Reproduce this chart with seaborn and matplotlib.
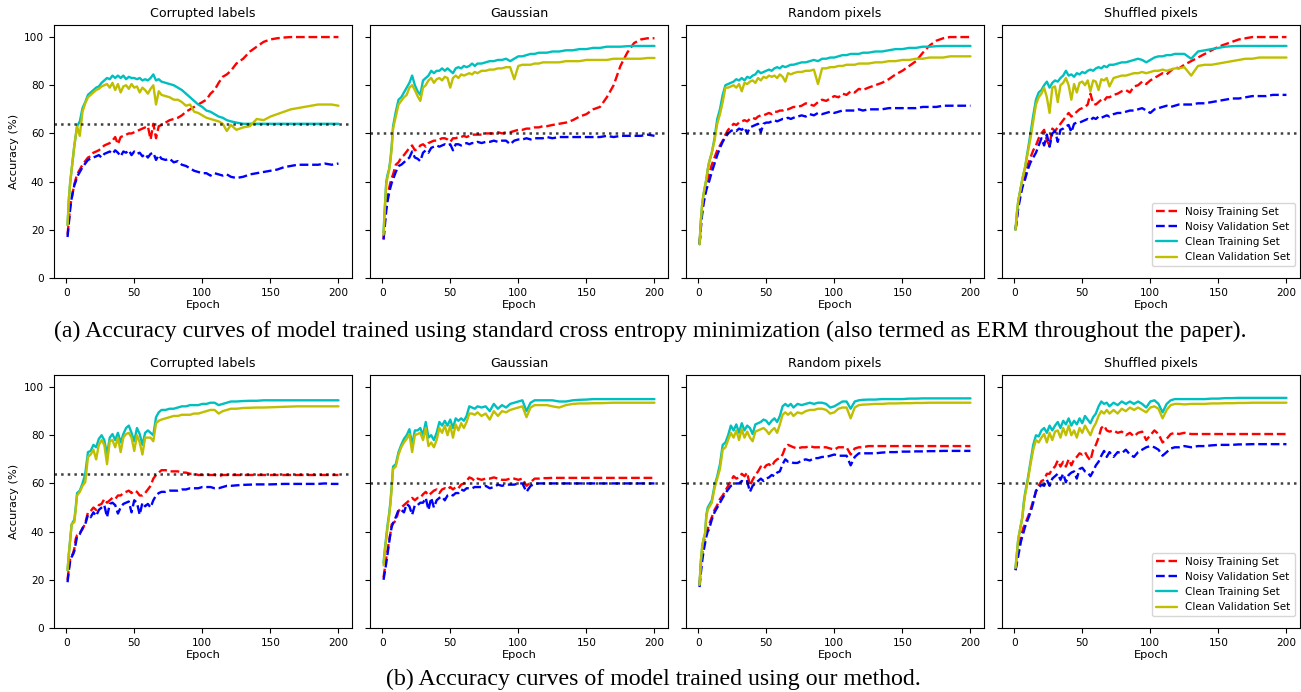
import matplotlib
matplotlib.use("Agg")
import matplotlib.pyplot as plt
import seaborn as sns

# ---------------- data ----------------
epochs = [1, 2, 3, 4, 5, 6, 7, 8,
          10, 12, 14, 16, 18, 20, 22, 24, 26, 28, 30, 32, 34, 36, 38,
          40, 42, 44, 46, 48, 50, 52, 54, 56, 58, 60, 62, 64, 66, 68, 70,
          73, 76, 79, 82, 85, 88, 91, 94, 97, 100, 103, 106, 109, 112, 115, 118, 121,
          125, 130, 135, 140, 145, 150, 155, 160, 165, 170, 175, 180, 185, 190, 195, 200]

titles = ["Corrupted labels", "Gaussian", "Random pixels", "Shuffled pixels"]
ref_levels = [64, 60, 60, 60]
series_labels = ["Noisy Training Set", "Noisy Validation Set",
                 "Clean Training Set", "Clean Validation Set"]
captions = ["(a) Accuracy curves of model trained using standard cross entropy minimization "
            "(also termed as ERM throughout the paper).",
            "(b) Accuracy curves of model trained using our method."]
yticks = [0, 20, 40, 60, 80, 100]
xticks = [0, 50, 100, 150, 200]

# ---- (a) ERM : Corrupted labels ----
erm_cl_nt = [18, 24, 30, 33, 36, 39, 41, 43,
             45, 47, 48.5, 50, 50.5, 52, 52.5, 53, 54, 55, 55.5, 56, 57, 58.5, 55.5,
             58.5, 59, 59.5, 60, 60, 60.5, 61, 61.5, 62, 62.5, 63, 57.5, 64, 58, 63, 63.5,
             64.5, 65.5, 66, 66.5, 67.5, 69, 70, 71, 72, 73, 74, 76.5, 78, 81, 83.5, 84.5, 86,
             89, 91, 94, 96, 98, 99, 99.5, 99.8, 100, 100, 100, 100, 100, 100, 100, 100]
erm_cl_nv = [17, 23, 29, 33, 36, 38.5, 40, 42,
             44, 46, 47.5, 49, 49.5, 50, 50.5, 51, 50, 51.5, 52, 52.5, 51.5, 53, 52,
             50.5, 52.5, 52, 53, 51, 52.5, 51.5, 52, 50.5, 51.5, 50, 51.5, 52, 49, 51, 49.5,
             49, 49.5, 48, 48.5, 47, 46.5, 45.5, 44.5, 44, 43.5, 43.5, 42.5, 43.5, 43, 42.5, 43, 42,
             41.5, 42, 43, 43.5, 44, 44.5, 45, 46, 46.5, 47, 47, 47, 47, 47.5, 47, 47.5]
erm_cl_ct = [22, 33, 40, 45, 50, 55, 59, 63,
             65, 70.5, 73, 76, 77, 78, 79, 79.5, 81, 82, 83, 82.5, 84, 83, 84,
             83, 84, 82.5, 83.5, 83, 83, 82.5, 83, 82, 82.5, 82, 83, 84.5, 82, 82.5, 81.5,
             81, 80.5, 80, 79, 78, 76.5, 75, 73.5, 72, 71, 69.5, 69, 68, 67, 66.5, 65.5, 65,
             64.5, 64, 64, 64, 64, 64, 64, 64, 64, 64, 64, 64, 64, 64, 64, 64]
erm_cl_cv = [22, 33, 40, 45, 50, 55, 59, 63,
             59, 69, 72.5, 75, 76, 77, 78, 78.5, 79.5, 80, 80.5, 79, 81, 78, 80.5,
             77, 79.5, 80, 78.5, 80.5, 79, 79.5, 77, 79, 78, 76.5, 78.5, 80, 72, 77.5, 76,
             75.5, 75, 74, 74, 73, 71.5, 72, 69, 68.5, 67.5, 66.5, 66, 65.5, 65, 64, 61, 63.5,
             61.5, 62.5, 63, 66, 65.5, 67, 68, 69, 70, 70.5, 71, 71.5, 72, 72, 72, 71.5]

# ---- (a) ERM : Gaussian ----
erm_ga_nt = [16, 24, 30, 34, 37, 39.5, 41.5, 43,
             47, 48, 50, 51, 52.5, 54, 55, 53, 53.5, 55, 55.5, 54.5, 56, 56.5, 57,
             57, 57.5, 58, 58, 57.5, 56.5, 58, 58, 58.5, 58.5, 59, 58.5, 59, 59.5, 59.5, 59.5,
             59.5, 60, 60, 60, 60.5, 60, 60.5, 60.5, 61, 61.5, 61.5, 62, 62, 62.5, 62.5, 63, 63,
             63.5, 64, 64.5, 65.5, 67, 68, 70, 71, 75, 80, 88, 93.5, 97.5, 99, 99.5, 99.5]
erm_ga_nv = [16, 22, 28, 32, 35, 37.5, 39.5, 41,
             44, 46.5, 47, 48, 49, 50, 52.5, 50, 49.5, 48.5, 52, 53, 52, 54, 54.5,
             55, 54.5, 55, 55.5, 55, 55.5, 53, 55.5, 55.5, 55, 55.5, 56, 55.5, 56, 56, 56.5,
             56, 56.5, 56.5, 57, 56.5, 57, 57, 55.5, 57, 57.5, 57.5, 58, 57.5, 58, 58, 58, 58.5,
             58, 58.5, 58.5, 58.5, 58.5, 58.5, 58.5, 58.5, 59, 58.5, 59, 59, 59, 59, 59.5, 59]
erm_ga_ct = [19, 30, 40, 43, 45, 49, 55, 63,
             69, 74, 75, 77, 79, 81, 84, 80, 77.5, 76, 82, 83, 84, 86, 85,
             86, 86, 87, 86, 87, 86, 85, 87, 87.5, 87, 88, 87.5, 88, 89, 88, 89,
             89, 89.5, 90, 90, 90.5, 90.5, 91, 90, 91, 92, 92, 92.5, 93, 93, 93.5, 93.5, 93.5,
             94, 94, 94.5, 94.5, 95, 95, 95.5, 95.5, 96, 96, 96, 96.2, 96.3, 96.3, 96.3, 96.3]
erm_ga_cv = [18, 29, 39, 42, 44.5, 48, 54, 62,
             67, 72, 73.5, 75, 76, 79, 80, 78, 75.5, 73.5, 79, 80, 82, 83, 81,
             82.5, 83, 82, 83.5, 83, 79, 83, 84, 83, 84.5, 84, 84.5, 85, 84.5, 85.5, 85,
             86, 86, 86.5, 86.5, 87, 87, 87.5, 87.5, 82.5, 88, 88.5, 88.5, 88.5, 89, 89, 89.5, 89.5,
             89.5, 89.5, 90, 90, 90, 90.5, 90.5, 90.5, 90.5, 91, 91, 91, 91, 91, 91.3, 91.3]

# ---- (a) ERM : Random pixels ----
erm_rp_nt = [14, 22, 28, 32, 35, 38, 40.5, 43,
             47, 50, 53, 55, 57, 59.5, 61.5, 62.5, 64, 63.5, 64.5, 65, 65.5, 65, 66,
             66.5, 66, 67, 67.5, 67.5, 68, 68.5, 68, 69, 69, 69.5, 69.5, 70, 70, 70.5, 71,
             71, 71.5, 72.5, 72, 71.5, 73, 74, 73.5, 74.5, 75.5, 75, 76.5, 76, 77.5, 77, 78.5, 78,
             79, 80, 81, 82.5, 84.5, 86, 88, 90, 93.5, 96.5, 98.5, 99.5, 100, 100, 100, 100]
erm_rp_nv = [14, 21, 27, 31, 34, 36.5, 38.5, 40,
             44, 47.5, 51, 54, 56.5, 58.5, 60, 61, 61.5, 61, 62, 61.5, 62.5, 60, 62.5,
             63, 63.5, 64, 60.5, 64, 64.5, 64.5, 65, 65.5, 65, 65.5, 66, 66, 66.5, 66, 66.5,
             67, 67.5, 67, 68, 67.5, 68.5, 68, 68.5, 69, 68.5, 69, 69.5, 69.5, 69.5, 69.5, 70, 69.5,
             70, 70, 70, 70.5, 70.5, 70.5, 70.5, 70.5, 71, 71, 71, 71.5, 71.5, 71.5, 71.5, 71.5]
erm_rp_ct = [14, 24, 31, 35, 38, 41, 45, 48,
             52, 58, 66, 70, 76, 80, 80.5, 81, 81.5, 82.5, 82, 83, 82, 83.5, 83,
             84, 84.5, 86, 85, 85.5, 86, 86.5, 86, 87, 87.5, 87, 88, 87.5, 88, 88.5, 88.5,
             89, 89.5, 89.5, 90, 90.5, 90, 91, 91, 91.5, 91.5, 92, 92.5, 92.5, 93, 93, 93, 93.5,
             93.5, 94, 94, 94.5, 95, 95, 95.5, 95.5, 96, 96, 96.2, 96.3, 96.3, 96.3, 96.3, 96.3]
erm_rp_cv = [14, 24, 31, 35, 38, 41, 45, 48,
             52, 57, 64, 68, 73, 79, 79, 79.5, 80, 79, 80.5, 77.5, 81, 80.5, 81.5,
             82, 81, 83, 82, 83.5, 83, 84, 83.5, 84, 83, 84.5, 83.5, 81.5, 85, 84.5, 85,
             85.5, 85.5, 86, 86, 86.5, 80.5, 87, 87, 87.5, 87.5, 88, 88, 88.5, 88.5, 88.5, 89, 89,
             89, 89.5, 89.5, 90, 90, 90.5, 90.5, 91, 91, 91.5, 91.5, 91.5, 92, 92, 92, 92]

# ---- (a) ERM : Shuffled pixels ----
erm_sp_nt = [20, 25, 30, 33, 36, 38.5, 40.5, 42,
             47, 50, 53, 55, 58, 60, 61.5, 57, 55, 62, 61, 62.5, 64, 65.5, 67,
             68.5, 67, 68, 69, 70, 70.5, 71, 72, 76.5, 72.5, 72, 73, 74, 73.5, 75, 75,
             76, 76.5, 77.5, 78, 77, 79.5, 80, 81.5, 80.5, 82, 83, 84, 85, 84.5, 86, 87.5, 87,
             88.5, 90, 91.5, 93, 94.5, 96, 97, 98, 99, 99.5, 100, 100, 100, 100, 100, 100]
erm_sp_nv = [20, 24.5, 29, 32, 35, 37.5, 39.5, 41,
             45, 48, 50, 52, 55, 58, 55, 59.5, 54.5, 60, 61, 56.5, 61.5, 62, 63,
             63.5, 60.5, 64, 64.5, 64.5, 65, 65.5, 66, 65.5, 66.5, 66, 67, 66.5, 67, 67.5, 67,
             68, 68.5, 68.5, 69, 69.5, 69.5, 70, 70.5, 69.5, 68.5, 70, 70.5, 71, 71.5, 71, 71.5, 72,
             72, 72, 72.5, 72.5, 73, 73.5, 74, 74.5, 74.5, 75, 75.5, 75.5, 75.5, 76, 76, 76]
erm_sp_ct = [20, 27, 32, 35, 38, 41, 43.5, 46,
             53, 60, 67.5, 74, 77, 78, 80, 81.5, 79, 81, 82, 81.5, 83, 84, 86,
             84, 84.5, 83.5, 85, 84.5, 85.5, 85, 86, 86.5, 86, 87, 87.5, 87, 88, 87.5, 88.5,
             88.5, 89, 89.5, 89.5, 90, 90.5, 91, 90.5, 89.5, 90.5, 91.5, 92, 92, 92.5, 92.5, 93, 93,
             93, 91, 94, 94.5, 95, 95.5, 96, 96.2, 96.3, 96.3, 96.3, 96.3, 96.3, 96.3, 96.3, 96.3]
erm_sp_cv = [20, 27, 32, 35, 38, 41, 43.5, 46,
             52, 58, 65, 72, 75, 76.5, 79, 75, 68.5, 79, 79.5, 73, 80, 81, 83,
             80, 74, 80.5, 77, 81, 81.5, 80, 82, 77.5, 82, 81.5, 78, 82.5, 82, 83, 79.5,
             83, 83.5, 84, 84, 84.5, 85, 85, 85.5, 85, 85.5, 86, 86, 86.5, 86, 86.5, 87, 87,
             87.5, 84, 88, 88.5, 88.5, 89, 89.5, 90, 90.5, 91, 91, 91.5, 91.5, 91.5, 91.5, 91.5]

# ---- (b) ours : Corrupted labels ----
our_cl_nt = [20, 25, 29, 30, 31, 33, 37, 38.5,
             39.5, 41, 43.5, 48, 48.5, 50, 49, 51, 51.5, 53.5, 52, 53, 54, 53.5, 55,
             55, 56, 56.5, 57, 56, 57, 56.5, 55, 55, 56, 57.5, 59, 62, 63.5, 64.5, 65.5,
             65.5, 65, 65, 65, 64.5, 64.5, 64, 64, 63.5, 63.5, 63.5, 63.5, 63.5, 63, 63.5, 63.5, 63.5,
             63.5, 63.5, 63.5, 63.5, 63.5, 63.5, 63.5, 63.5, 63.5, 63.5, 63.5, 63.5, 63.5, 63.5, 63.5, 63.5]
our_cl_nv = [19, 24, 28, 29.5, 30.5, 32, 35, 38,
             39, 41.5, 43, 47, 46, 48, 46.5, 49, 50, 51, 46, 51.5, 52, 51, 47.5,
             50, 51.5, 52, 52.5, 48, 53, 52, 47, 52, 50.5, 51.5, 50, 53, 55, 56, 56.5,
             56.5, 57, 57, 57, 57.5, 57.5, 58, 58, 58, 58.5, 58.5, 58.5, 58, 58, 58.5, 59, 59,
             59.2, 59.4, 59.5, 59.6, 59.6, 59.6, 59.7, 59.8, 59.8, 59.8, 59.8, 59.8, 59.8, 60, 59.8, 59.8]
our_cl_ct = [24, 31, 37, 43, 44, 45, 50, 56,
             57, 60, 64, 73, 73.5, 76, 75, 78.5, 80, 78, 72, 79, 80.5, 78, 81,
             77, 80.5, 83, 84, 81, 77.5, 83, 80.5, 76, 81, 82, 81, 80, 87.5, 89.5, 90.5,
             90.5, 91, 91, 91.5, 92, 92, 92.5, 92.5, 92.5, 93, 93, 93.5, 93.5, 92.5, 93, 93.5, 94,
             94, 94.2, 94.3, 94.3, 94.5, 94.5, 94.5, 94.5, 94.5, 94.5, 94.5, 94.5, 94.5, 94.5, 94.5, 94.5]
our_cl_cv = [24, 31, 37, 43, 43.5, 44, 49, 55,
             56.5, 59, 60.5, 71, 72, 74, 70, 76, 78, 76, 68, 77.5, 78, 75, 79,
             73, 79, 80.5, 81, 79, 73.5, 80, 77, 72, 79, 79, 79, 77.5, 85, 86, 86.5,
             87, 87.5, 88, 88, 88.5, 88.5, 88.5, 89, 89, 89.5, 90, 90.5, 90.5, 89, 90, 90.5, 91,
             91, 91.3, 91.4, 91.5, 91.5, 91.6, 91.7, 91.8, 91.9, 92, 92, 92, 92, 92, 92, 92]

# ---- (b) ours : Gaussian ----
our_ga_nt = [21, 25, 29, 32.5, 36, 39, 43, 43.5,
             44.5, 48.5, 50, 51, 52, 53, 54, 53, 54, 54, 55.5, 56.5, 55, 56, 57,
             57.5, 56, 57.5, 58, 57.5, 58.5, 57.5, 58.5, 58, 59.5, 60, 61, 62.5, 62, 61, 62,
             61.5, 62, 62, 62.5, 62, 61.5, 61.5, 62, 62, 61.5, 62, 59, 60.5, 62, 62, 62.2, 62.2,
             62.3, 62.3, 62.3, 62.3, 62.3, 62.3, 62.3, 62.3, 62.3, 62.3, 62.3, 62.3, 62.3, 62.3, 62.3, 62.3]
our_ga_nv = [20, 23.5, 27, 31, 35, 39, 42, 43.5,
             46, 49, 49, 48, 51.5, 50.5, 47, 51, 51, 52, 52, 54, 49, 54, 50,
             53, 54, 54.5, 53, 55, 55.5, 55, 56, 56, 57.5, 57, 58, 58, 58, 58.5, 58.5,
             58.5, 59, 58, 58.5, 59.5, 59, 59.5, 59.5, 59.5, 60, 60, 56.5, 59, 59.8, 60, 60, 60,
             60, 60, 60, 60, 60, 60, 60, 60, 60, 60, 60, 60, 60, 60, 60, 60]
our_ga_ct = [27, 33, 38, 43, 47, 52, 59, 67,
             68, 73, 76, 78.5, 80, 82.5, 76, 82, 82, 83, 80, 85.5, 79, 80, 78,
             81, 85.5, 84, 86, 84, 86.5, 83, 87, 86, 87, 86, 88, 92, 91.5, 91, 92,
             91.5, 92, 90, 93, 91, 92.5, 91.5, 93, 93.5, 94, 94.5, 90, 93.5, 94.5, 94.5, 94.5, 94.5,
             94.5, 94, 94, 94.5, 94.7, 94.8, 95, 95, 95, 95, 95, 95, 95, 95, 95, 95]
our_ga_cv = [26, 32, 37, 42, 46, 51, 58, 66,
             67, 72, 75, 77, 78.5, 80.5, 73, 80, 80.5, 81, 78, 83, 75.5, 77, 75,
             78, 83, 81, 84, 80, 84, 79, 84.5, 82, 85, 83, 85.5, 89, 89, 88.5, 89.5,
             88, 89, 86.5, 90, 88, 90, 89.5, 90.5, 91, 91.5, 92, 87.5, 91.5, 92.5, 92.5, 92.5, 92.5,
             92, 91.5, 92.5, 93, 93.2, 93.2, 93.3, 93.3, 93.4, 93.5, 93.5, 93.5, 93.5, 93.5, 93.5, 93.5]

# ---- (b) ours : Random pixels ----
our_rp_nt = [18, 26, 31, 35, 38, 40, 41, 43,
             46, 49, 51, 53.5, 55, 57, 59, 61, 63, 62, 62.5, 64, 63, 64.5, 59,
             61.5, 63.5, 65, 67, 66, 67.5, 68, 67, 69, 70, 70.5, 72, 75, 76, 75.5, 75,
             74.5, 75, 75, 75.5, 75, 75, 75, 75, 74.5, 74, 75, 75, 75, 72, 74.5, 75, 75,
             75.5, 75.5, 75.5, 75.5, 75.5, 75.5, 75.5, 75.5, 75.5, 75.5, 75.5, 75.5, 75.5, 75.5, 75.5, 75.5]
our_rp_nv = [17, 23, 28, 32, 35, 38, 40, 41,
             45, 48, 50, 52, 54, 56, 57.5, 59, 59.5, 60, 60, 61, 60.5, 61, 56.5,
             59, 60, 61, 62, 61, 62, 62.5, 63.5, 63, 64.5, 65, 68, 70, 69, 69, 68.5,
             68.5, 69.5, 70, 69.5, 70.5, 70.5, 71, 71, 71.5, 72, 71.5, 71.5, 71.5, 67.5, 71, 72.5, 72.5,
             72.5, 72.5, 72.8, 73, 73, 73.2, 73.2, 73.3, 73.3, 73.4, 73.4, 73.5, 73.5, 73.5, 73.5, 73.5]
our_rp_ct = [18, 28, 34, 37, 39, 47, 50, 51,
             53, 59, 63, 68, 76, 77, 80, 84, 82, 84.5, 81, 85, 82, 84, 83,
             80.5, 84.5, 85, 85.5, 86.5, 86, 84.5, 86, 87, 85.5, 88, 92, 93, 92, 93, 91.5,
             93, 92.5, 93, 93.5, 93, 93.5, 93.5, 93, 91.5, 92, 93, 94, 94, 91, 94, 94.5, 94.7,
             94.8, 94.8, 95, 95, 95, 95, 95.2, 95.2, 95.3, 95.3, 95.3, 95.3, 95.3, 95.3, 95.3, 95.3]
our_rp_cv = [18, 28, 34, 37, 39, 46, 49, 50,
             52, 58, 62, 66, 74, 75, 78, 81, 79, 82, 78, 82.5, 79, 81.5, 79,
             77.5, 81.5, 82, 82.5, 83, 82, 80.5, 82, 83, 81, 84.5, 88.5, 89.5, 88.5, 89.5, 88,
             89.5, 89, 90, 90.5, 90.5, 91, 91, 90.5, 89, 89.5, 91, 91.5, 91.5, 87, 91.5, 92.5, 92.7,
             92.8, 93, 93, 93.2, 93.2, 93.3, 93.3, 93.4, 93.4, 93.5, 93.5, 93.5, 93.5, 93.5, 93.5, 93.5]

# ---- (b) ours : Shuffled pixels ----
our_sp_nt = [24, 28, 32, 35, 38, 40, 42, 43,
             46, 49, 53, 56.5, 59, 61, 61.5, 64, 64, 66, 67, 69.5, 67, 69, 67,
             70, 67.5, 70, 71, 72.5, 72, 73, 71, 69.5, 74, 76, 79, 83, 84, 82, 81.5,
             82, 81, 81.5, 80, 81, 79.5, 81, 81.5, 78, 80, 82, 80.5, 77, 78.5, 80.5, 81, 80.5,
             81, 80.5, 80.5, 80.5, 80.5, 80.5, 80.5, 80.5, 80.5, 80.5, 80.5, 80.5, 80.5, 80.5, 80.5, 80.5]
our_sp_nv = [24, 27, 30, 33, 36, 38, 40, 42,
             45, 48, 52, 57, 58, 59.5, 59, 61.5, 59, 62, 63, 64, 61.5, 64, 60.5,
             63.5, 64.5, 65, 62, 66, 66.5, 65, 64.5, 63, 65, 67.5, 69, 71.5, 73.5, 71, 73,
             71, 73, 72.5, 74, 72, 71, 73, 74, 75, 75.5, 75, 74, 71.5, 73, 74.5, 75, 75,
             75.5, 75, 75.5, 75.5, 75.8, 76, 76, 76, 76.2, 76.2, 76.3, 76.3, 76.3, 76.3, 76.3, 76.3]
our_sp_ct = [25, 31, 37, 40, 43, 46, 52, 56,
             62, 69, 76, 80, 79.5, 82, 83, 81, 84, 82, 84, 85.5, 83, 86, 84.5,
             87, 84, 86, 84.5, 87, 85, 88, 86.5, 85, 87.5, 89, 92, 94, 93, 93.5, 92,
             93.5, 92.5, 94, 93, 94, 93, 94, 93, 91.5, 94, 94.5, 93, 89.5, 93, 94.5, 95, 95,
             95, 95, 95, 95, 95.2, 95.2, 95.4, 95.4, 95.5, 95.5, 95.5, 95.5, 95.5, 95.5, 95.5, 95.5]
our_sp_cv = [25, 31, 37, 40, 43, 46, 51, 55,
             61, 68, 74, 78, 77, 79, 80.5, 77, 81, 78, 81.5, 82, 79, 83, 80,
             84, 80, 82, 79, 83, 81, 84, 82, 80, 83, 85, 88, 90, 89, 90.5, 89,
             90.5, 89, 91, 90, 91.5, 90.5, 91.5, 90.5, 89.5, 91.5, 92, 91, 87, 90.5, 92.5, 93, 93,
             92.8, 93, 93, 93, 93.2, 93.2, 93.3, 93.3, 93.4, 93.4, 93.5, 93.5, 93.5, 93.5, 93.5, 93.5]

rows = [
    [(erm_cl_nt, erm_cl_nv, erm_cl_ct, erm_cl_cv),
     (erm_ga_nt, erm_ga_nv, erm_ga_ct, erm_ga_cv),
     (erm_rp_nt, erm_rp_nv, erm_rp_ct, erm_rp_cv),
     (erm_sp_nt, erm_sp_nv, erm_sp_ct, erm_sp_cv)],
    [(our_cl_nt, our_cl_nv, our_cl_ct, our_cl_cv),
     (our_ga_nt, our_ga_nv, our_ga_ct, our_ga_cv),
     (our_rp_nt, our_rp_nv, our_rp_ct, our_rp_cv),
     (our_sp_nt, our_sp_nv, our_sp_ct, our_sp_cv)],
]

# ---------------- style ----------------
sns.set_style("ticks")
plt.rcParams.update({
    "font.family": ["DejaVu Sans"],
    "text.color": "black",
    "axes.labelcolor": "black",
    "axes.edgecolor": "black",
    "xtick.color": "black",
    "ytick.color": "black",
    "axes.linewidth": 0.8,
    "xtick.major.size": 3.5,
    "ytick.major.size": 3.5,
})

W, H = 1301, 692
fig = plt.figure(figsize=(W / 100, H / 100), dpi=100)
lefts = [54, 370, 686, 1002]
row_bottom_px = [278, 628]
ax_w, ax_h = 298, 253
colors = ["r", "b", "c", "y"]
styles = ["--", "--", "-", "-"]

for r in range(2):
    for c in range(4):
        ax = fig.add_axes([lefts[c] / W, 1 - row_bottom_px[r] / H, ax_w / W, ax_h / H])
        for vals, col, ls, lab in zip(rows[r][c], colors, styles, series_labels):
            assert len(vals) == len(epochs), (r, c, lab, len(vals))
            sns.lineplot(x=epochs, y=vals, ax=ax, color=col, linestyle=ls, linewidth=1.7,
                         label=lab, legend=False, errorbar=None, estimator=None)
        ax.axhline(ref_levels[c], color="k", linestyle=":", linewidth=1.8, alpha=0.75, zorder=5)
        ax.set_ylim(0, 105)
        ax.set_yticks(yticks)
        ax.set_xticks(xticks)
        ax.tick_params(labelsize=7.6, width=0.8, length=3.5)
        ax.set_title(titles[c], fontsize=9.1)
        ax.set_xlabel("Epoch", fontsize=8.2, labelpad=2)
        if c == 0:
            ax.set_ylabel("Accuracy (%)", fontsize=8.2)
        else:
            ax.set_ylabel("")
            ax.tick_params(labelleft=False)
        if c == 3:
            ax.legend(loc="lower right", bbox_to_anchor=(1.0, 0.025), fontsize=7.5,
                      frameon=True)

fig.text(650.5 / W, 1 - 331 / H, captions[0], ha="center", va="center",
         fontsize=17.2, family="Liberation Serif")
fig.text(653.5 / W, 1 - 679 / H, captions[1], ha="center", va="center",
         fontsize=17.2, family="Liberation Serif")

fig.savefig("out.png", dpi=100)
